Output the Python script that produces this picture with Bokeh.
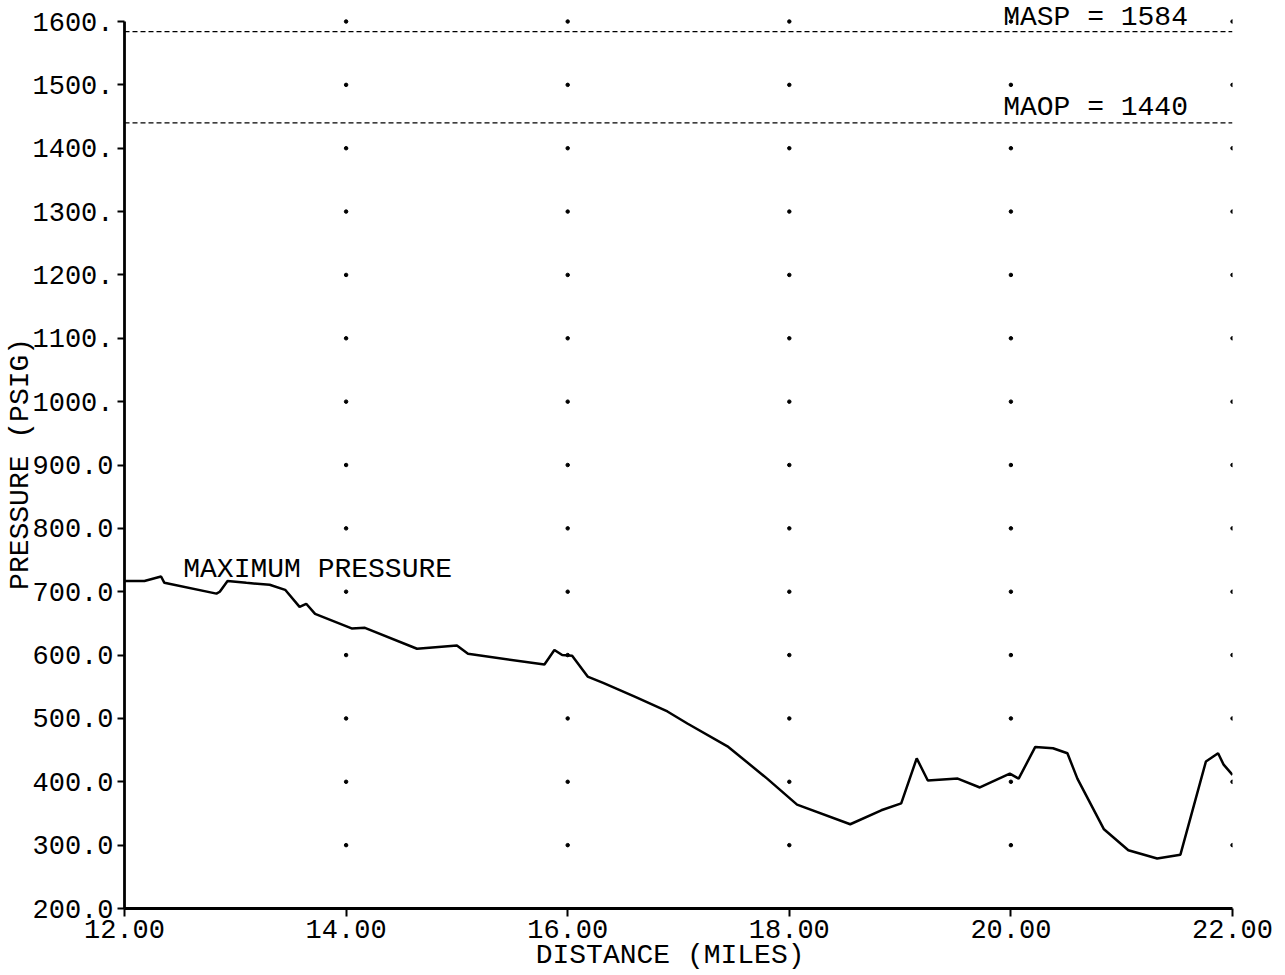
from bokeh.plotting import figure
from bokeh.models import Range1d, Span, Label, FixedTicker
from bokeh.embed import file_html
from bokeh.resources import INLINE

# Pressure profile along the line (miles, psig)
distance = [12.00, 12.18, 12.33, 12.36, 12.83, 12.86, 12.93, 13.10, 13.31, 13.45,
            13.58, 13.64, 13.72, 14.05, 14.17, 14.64, 15.00, 15.10, 15.79, 15.88,
            15.95, 16.04, 16.18, 16.32, 16.61, 16.90, 17.08, 17.45, 17.80, 18.07,
            18.55, 18.83, 19.01, 19.15, 19.25, 19.52, 19.72, 19.99, 20.07, 20.22,
            20.38, 20.51, 20.60, 20.84, 21.06, 21.32, 21.53, 21.76, 21.87, 21.92,
            22.00]
pressure = [717, 717, 724, 714, 697, 700, 717, 714, 711, 703,
            676, 681, 665, 642, 643, 610, 615, 602, 585, 608,
            600, 599, 566, 556, 534, 511, 492, 455, 405, 364,
            333, 355, 366, 437, 402, 405, 391, 413, 405, 455,
            453, 445, 405, 325, 292, 279, 285, 432, 445, 427,
            411]

x_ticks = [12, 14, 16, 18, 20, 22]
x_tick_labels = ["12.00", "14.00", "16.00", "18.00", "20.00", "22.00"]
y_ticks = [200, 300, 400, 500, 600, 700, 800, 900, 1000, 1100, 1200, 1300, 1400, 1500, 1600]
y_tick_labels = ["200.0", "300.0", "400.0", "500.0", "600.0", "700.0", "800.0", "900.0",
                 "1000.", "1100.", "1200.", "1300.", "1400.", "1500.", "1600."]

masp = 1584
maop = 1440

FONT = "Liberation Mono"

# a little headroom above 1600 keeps the MASP caption inside the frame;
# the axis line itself stops at 1600
p = figure(width=1285, height=975,
           x_range=Range1d(12, 22), y_range=Range1d(200, 1630),
           output_backend="svg", toolbar_location=None,
           min_border_left=124, min_border_right=53,
           min_border_top=2, min_border_bottom=67)
p.outline_line_color = None
p.grid.visible = False
p.background_fill_color = "white"
p.border_fill_color = "white"

# axes
p.xaxis.ticker = FixedTicker(ticks=x_ticks)
p.xaxis.major_label_overrides = dict(zip(x_ticks, x_tick_labels))
p.yaxis.ticker = FixedTicker(ticks=y_ticks)
p.yaxis.major_label_overrides = dict(zip(y_ticks, y_tick_labels))
p.yaxis.bounds = (200, 1600)

for ax in (p.xaxis[0], p.yaxis[0]):
    ax.axis_line_width = 2.8
    ax.axis_line_color = "black"
    ax.major_tick_line_width = 2
    ax.major_tick_line_color = "black"
    ax.major_tick_in = 0
    ax.minor_tick_line_color = None
    ax.major_label_text_font = FONT
    ax.major_label_text_font_size = "27px"
    ax.major_label_text_color = "black"
    ax.axis_label_text_font = FONT
    ax.axis_label_text_font_size = "28px"
    ax.axis_label_text_font_style = "normal"
    ax.axis_label_text_color = "black"

p.xaxis.major_tick_out = 8
p.xaxis.major_label_standoff = 3
p.xaxis.axis_label = "DISTANCE  (MILES)"
p.xaxis.axis_label_standoff = -1

p.yaxis.major_tick_out = 7
p.yaxis.major_label_standoff = 4
p.yaxis.axis_label = "PRESSURE  (PSIG)"
p.yaxis.axis_label_standoff = -7

# dotted grid at tick intersections
gx = [x for x in x_ticks[1:] for y in y_ticks[1:]]
gy = [y for x in x_ticks[1:] for y in y_ticks[1:]]
p.scatter(gx, gy, size=3.5, color="black")

# limit lines
for level in (masp, maop):
    p.add_layout(Span(location=level, dimension="width", line_color="black",
                      line_width=1.2, line_dash="5 3"))

p.add_layout(Label(x=19.93, y=masp, y_offset=14, text="MASP = %d" % masp,
                   text_font=FONT, text_font_size="28px", text_color="black",
                   text_baseline="alphabetic"))
p.add_layout(Label(x=19.93, y=maop, y_offset=15, text="MAOP = %d" % maop,
                   text_font=FONT, text_font_size="28px", text_color="black",
                   text_baseline="alphabetic"))

# pressure curve
p.line(distance, pressure, line_color="black", line_width=2.5)
p.add_layout(Label(x=12.53, y=721, y_offset=9, text="MAXIMUM PRESSURE",
                   text_font=FONT, text_font_size="28px", text_color="black",
                   text_baseline="alphabetic"))

open("out.html", "w").write(file_html(p, INLINE))
